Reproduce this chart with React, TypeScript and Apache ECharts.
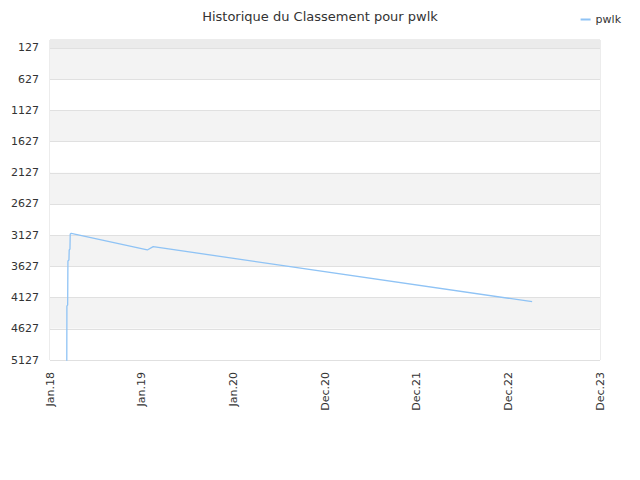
import React, { useEffect, useRef } from 'react';
import * as echarts from 'echarts';

// rank history of pwlk (lower = better)
const dates = [
  '2018-03-21', '2018-03-22', '2018-03-25', '2018-03-26', '2018-03-30', '2018-03-31',
  '2018-04-03', '2018-04-04', '2018-04-08', '2019-01-30', '2019-02-22', '2023-03-13',
];
const ranks = [6500, 4262, 4245, 3540, 3525, 3364, 3350, 3108, 3097, 3364, 3311, 4193];

const xTickLabels = ['Jan.18', 'Jan.19', 'Jan.20', 'Dec.20', 'Dec.21', 'Dec.22', 'Dec.23'];
const X_START = Date.UTC(2018, 0, 15);
const X_STEP = 358; // days between x labels

const yTicks = [127, 627, 1127, 1627, 2127, 2627, 3127, 3627, 4127, 4627, 5127];
const Y_MIN = -1;

const FONT = 'DejaVu Sans';

const toDays = (d: string) => {
  const [y, m, day] = d.split('-').map(Number);
  return (Date.UTC(y, m - 1, day) - X_START) / 86400000;
};

const App: React.FC = () => {
  const chartRef = useRef<HTMLDivElement>(null);

  useEffect(() => {
    if (!chartRef.current) return;
    const chart = echarts.init(chartRef.current, undefined, { renderer: 'svg' });

    const seriesData = dates.map((d, i) => [toDays(d), ranks[i]]);

    const option: echarts.EChartsOption = {
      animation: false,
      backgroundColor: '#fff',
      title: {
        text: 'Historique du Classement pour pwlk',
        left: 'center',
        top: 5,
        textStyle: { fontFamily: FONT, fontSize: 13, fontWeight: 'normal', color: '#333' },
      },
      legend: {
        right: 14,
        top: 9,
        icon: 'rect',
        itemWidth: 10,
        itemHeight: 2,
        itemGap: 6,
        textStyle: { fontFamily: FONT, fontSize: 11, color: '#333' },
        data: ['pwlk'],
      },
      grid: {
        left: 50,
        right: 40,
        top: 40,
        bottom: 120,
        show: true,
        borderColor: '#d9d9d9',
        borderWidth: 1,
        backgroundColor: 'transparent',
      },
      xAxis: {
        type: 'value',
        min: 0,
        max: X_STEP * (xTickLabels.length - 1),
        interval: X_STEP,
        axisLine: { show: false },
        axisTick: { show: false },
        splitLine: { show: false },
        axisLabel: {
          rotate: 90,
          margin: 12,
          fontFamily: FONT,
          fontSize: 11,
          color: '#333',
          formatter: (v: number) => xTickLabels[Math.round(v / X_STEP)] ?? '',
        },
      },
      yAxis: {
        type: 'value',
        inverse: true,
        min: Y_MIN,
        max: yTicks[yTicks.length - 1],
        axisLine: { show: false },
        axisTick: { show: false, customValues: yTicks },
        splitLine: { show: true, lineStyle: { color: '#e0e0e0', width: 1 } },
        splitArea: { show: true, areaStyle: { color: ['#f3f3f3', '#ffffff'] } },
        axisLabel: {
          customValues: yTicks,
          margin: 11,
          fontFamily: FONT,
          fontSize: 11,
          color: '#333',
          formatter: (v: number) => String(v),
        },
      },
      series: [
        {
          name: 'pwlk',
          type: 'line',
          data: seriesData,
          symbol: 'none',
          clip: true,
          color: '#8fc3f5',
          lineStyle: { color: '#8fc3f5', width: 1.3 },
          markArea: {
            silent: true,
            itemStyle: { color: '#ebebeb' },
            data: [[{ yAxis: Y_MIN }, { yAxis: yTicks[0] }]],
          },
        },
      ],
    };

    chart.setOption(option);
    return () => chart.dispose();
  }, []);

  return (
    <div
      ref={chartRef}
      style={{ position: 'fixed', left: 0, top: 0, width: 640, height: 480 }}
    />
  );
};

export default App;
